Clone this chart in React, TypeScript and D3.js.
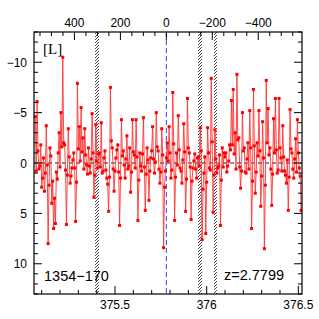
import * as d3 from "d3";

// spectrum grid (Angstrom) and values
const LAMBDA_START = 375.065;
const LAMBDA_STEP = 0.005;
const VALUES = [
  -4.6, 0.8, -6.1, -1.2, 0.6, 0.3, -1.8, 2.4, 1.5, -0.5, 2.8, 1.0, -3.7, 0.2, 8.0, 2.2, -1.5, -0.7, 4.0, 1.8,
  6.5, 3.5, 6.0, 0.9, 1.6, -1.0, -3.0, 0.4, -5.0, -1.6, -10.5, -2.0, -1.8, 0.7, 6.1, 1.2, -3.4, -0.6, 2.0, 1.3,
  0.5, -0.3, -1.0, 0.5, 5.8, 1.9, -7.9, -1.4, -3.6, -0.2, -5.5, -1.1, -2.5, 0.6, -3.4, -0.8, 0.2, 1.1, -1.5, 0.3,
  1.0, -0.4, -4.9, -1.0, 3.4, 1.2, -3.8, -0.2, 0.5, -0.9, -1.0, 0.4, -4.0, 1.0, 0.8, -0.5, -1.2, 0.7, 1.5, 2.1,
  4.8, 1.4, -7.5, -2.2, -1.5, 0.6, 2.8, 0.8, -0.5, -1.3, -1.8, 0.9, 6.2, 1.5, -4.3, -0.7, -1.2, 0.2, 1.5, -0.4,
  -2.7, 0.6, 0.3, -1.5, 2.9, 0.9, -4.3, -1.1, -0.8, 0.5, -4.3, -0.6, 5.7, 1.7, -1.0, 0.3, 0.8, -0.9, -4.5, 0.4,
  4.7, 1.1, -1.5, -0.3, 3.7, 0.8, -0.5, -1.2, -3.6, -0.4, 1.0, -0.1, -5.0, -1.6, -1.2, 0.6, 2.0, 0.9, -3.4, -0.8,
  8.4, 2.4, 0.8, -0.5, -2.0, -0.2, -3.6, -1.0, 1.5, 0.7, -7.0, -1.9, 5.7, 1.4, -1.0, 0.2, -4.7, -1.3, 0.5, 0.8,
  2.0, -0.3, -3.9, -1.1, 4.8, 1.6, -6.4, -1.5, -1.0, 0.4, 5.6, 1.8, 0.5, -0.2, -0.9, 0.6, 1.5, -0.5, -0.6, 0.3,
  -3.5, -1.2, 7.6, 2.6, 1.0, -0.6, 7.0, 1.9, -3.5, -1.0, 0.5, 0.7, -8.4, -2.1, 4.9, 1.2, -3.3, -0.4, 1.0, 0.5,
  0.3, -0.8, 6.2, 1.7, -1.5, 0.4, -1.0, -0.6, -1.0, 0.9, 0.3, -0.2, -1.8, -1.3, -6.2, -1.8, -7.3, -0.9, -3.0, 0.6,
  -8.8, -2.3, -2.5, 0.4, 2.5, 0.8, -5.0, -1.2, -1.5, 0.9, 1.0, -0.4, -2.0, 0.6, -5.2, -1.5, 6.5, 1.8, -7.3, -1.7,
  3.0, 0.9, -2.0, -0.7, -5.2, -1.2, 4.3, 1.3, -4.1, -0.5, 8.5, 2.2, -8.2, -2.0, -5.4, -0.8, -1.5, 0.6, 4.2, 1.1,
  -4.4, -1.0, -6.4, -1.3, 1.0, 0.7, -6.4, -1.5, -0.5, 0.8, -3.7, -0.6, 0.8, 1.2, 2.0, -0.3, 4.7, 1.4, -5.3, -1.4,
  -1.0, 0.6, 1.5, -0.4, -2.4, 0.9, -4.3, -1.0, 0.5, 1.3, 4.7,
];

// masked (hatched) wavelength ranges
const MASKS: [number, number][] = [
  [375.391, 375.413],
  [375.953, 375.975],
  [376.04, 376.056],
];

const LAMBDA_ZERO = 375.78; // velocity zero
const C_KMS = 299792.458;

const BOTTOM_LABELS = [375.5, 376, 376.5];
const TOP_LABELS = [400, 200, 0, -200, -400];
const LEFT_LABELS = [-10, -5, 0, 5, 10];

const TITLE = "[L]";
const NAME = "1354\u2212170";
const REDSHIFT = "z=2.7799";

export default function App() {
  const W = 319, H = 319;
  const left = 34, right = 302, top = 32, bottom = 294;

  const x = d3.scaleLinear().domain([375.058, 376.52]).range([left, right]);
  const y = d3.scaleLinear().domain([-13, 13]).range([top, bottom]);
  const toV = (l: number) => (C_KMS * (LAMBDA_ZERO - l)) / LAMBDA_ZERO;
  const v = d3.scaleLinear().domain([toV(375.058), toV(376.52)]).range([left, right]);

  const pts = VALUES.map((d, i) => [LAMBDA_START + i * LAMBDA_STEP, d] as [number, number]);
  const line = d3.line<[number, number]>().x((d) => x(d[0])).y((d) => y(d[1]));

  const fmt = (n: number) => (n < 0 ? "\u2212" + Math.abs(n) : String(n));

  const xMinor = d3.range(375.1, 376.51, 0.1).map((d) => +d.toFixed(2));
  const vMinor = d3.range(-550, 551, 50);
  const yMinor = d3.range(-13, 14, 1);

  const font = "'Liberation Sans', Arial, sans-serif";

  return (
    <svg width={W} height={H} style={{ position: "absolute", left: 0, top: 0, background: "#fff" }}>
      <defs>
        <pattern id="hatch" patternUnits="userSpaceOnUse" width="3" height="3">
          <path d="M0,3 L3,0 M-1,1 L1,-1 M2,4 L4,2" stroke="#333" strokeWidth="0.9" />
        </pattern>
        <clipPath id="plot">
          <rect x={left} y={top} width={right - left} height={bottom - top} />
        </clipPath>
      </defs>

      {MASKS.map(([a, b], i) => (
        <rect key={i} x={x(a)} y={top} width={x(b) - x(a)} height={bottom - top} fill="url(#hatch)" />
      ))}

      <line x1={left} x2={right} y1={y(0)} y2={y(0)} stroke="#000" strokeWidth={0.9} strokeDasharray="4,3" />
      <line x1={v(0)} x2={v(0)} y1={top} y2={bottom} stroke="#3344ee" strokeWidth={1} strokeDasharray="5,3" />

      <g clipPath="url(#plot)">
        <path d={line(pts) ?? ""} fill="none" stroke="#ff3535" strokeWidth={0.9} />
        {pts.map((d, i) => (
          <rect key={i} x={x(d[0]) - 1.5} y={y(d[1]) - 1.5} width={3} height={3} fill="#f00" />
        ))}
      </g>

      {/* ticks */}
      <g stroke="#000" strokeWidth={1}>
        {xMinor.map((t) => {
          const major = Math.abs(t * 2 - Math.round(t * 2)) < 1e-6;
          const len = major ? 8 : 4;
          return <line key={"b" + t} x1={x(t)} x2={x(t)} y1={bottom} y2={bottom - len} />;
        })}
        {vMinor.map((t) => {
          const len = t % 200 === 0 ? 8 : 4;
          return <line key={"t" + t} x1={v(t)} x2={v(t)} y1={top} y2={top + len} />;
        })}
        {yMinor.map((t) => {
          const len = t % 5 === 0 ? 8 : 4;
          return (
            <g key={"y" + t}>
              <line x1={left} x2={left + len} y1={y(t)} y2={y(t)} />
              <line x1={right} x2={right - len} y1={y(t)} y2={y(t)} />
            </g>
          );
        })}
      </g>

      <rect x={left} y={top} width={right - left} height={bottom - top} fill="none" stroke="#000" strokeWidth={1.2} />

      <g fontFamily={font} fontSize={12} fill="#000">
        {BOTTOM_LABELS.map((t) => (
          <text key={t} x={x(t)} y={309} textAnchor="middle">{String(t)}</text>
        ))}
        {TOP_LABELS.map((t) => (
          <text key={t} x={v(t)} y={27} textAnchor="middle">{fmt(t)}</text>
        ))}
        {LEFT_LABELS.map((t) => (
          <text key={t} x={27} y={y(t) + 4.5} textAnchor="end">{fmt(t)}</text>
        ))}
      </g>

      <text x={43} y={54} fontFamily="'Liberation Serif', serif" fontSize={15}>{TITLE}</text>
      <text x={44} y={281} fontFamily={font} fontSize={14.5}>{NAME}</text>
      <text x={224} y={280} fontFamily={font} fontSize={14.5}>{REDSHIFT}</text>
    </svg>
  );
}
